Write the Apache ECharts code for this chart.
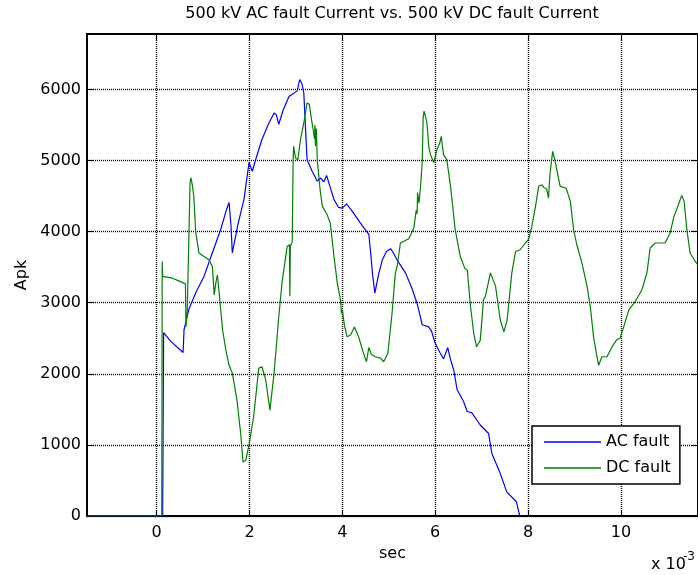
<!DOCTYPE html>
<html>
<head>
<meta charset="utf-8">
<script src="https://cdn.jsdelivr.net/npm/echarts@6/dist/echarts.min.js"></script>
<style>
  html, body { margin: 0; padding: 0; background: #fff; }
  #chart { width: 698px; height: 575px; }
</style>
</head>
<body>
<div id="chart"></div>
<script>
// Time base in milliseconds (axis carries the x 10^-3 s multiplier), current in A peak.
const acTime = [-1.5, 0.13, 0.15, 0.3, 0.45, 0.57, 0.59, 0.70, 0.85, 1.02, 1.16, 1.38, 1.50, 1.56, 1.60, 1.63,
  1.75, 1.88, 1.99, 2.06, 2.15, 2.27, 2.40, 2.53, 2.58, 2.63, 2.72, 2.85, 3.03, 3.08, 3.13, 3.17, 3.21, 3.24,
  3.35, 3.46, 3.53, 3.60, 3.66, 3.74, 3.82, 3.92, 4.00, 4.09, 4.20, 4.39, 4.57, 4.61, 4.65, 4.70, 4.78, 4.86,
  4.95, 5.04, 5.10, 5.18, 5.36, 5.50, 5.61, 5.72, 5.86, 5.92, 6.00, 6.10, 6.18, 6.27, 6.33, 6.40, 6.47, 6.61,
  6.69, 6.79, 6.97, 7.15, 7.22, 7.40, 7.54, 7.75, 7.82];
const acCurrent = [0, 0, 2580, 2460, 2370, 2300, 2620, 2920, 3150, 3370, 3630, 4030, 4300, 4410, 4100, 3700,
  4100, 4450, 4970, 4850, 5050, 5300, 5500, 5670, 5640, 5510, 5700, 5900, 5980, 6140, 6080, 5950, 5400, 5010,
  4850, 4710, 4755, 4700, 4790, 4620, 4450, 4340, 4330, 4390, 4300, 4120, 3960, 3700, 3400, 3135, 3400, 3600,
  3720, 3760, 3700, 3600, 3420, 3200, 2990, 2690, 2660, 2600, 2430, 2300, 2210, 2370, 2200, 2050, 1780, 1610,
  1470, 1450, 1280, 1160, 880, 600, 340, 200, 0];

const dcTime = [-1.5, 0.11, 0.12, 0.13, 0.34, 0.50, 0.62, 0.63, 0.66, 0.69, 0.72, 0.74, 0.77, 0.80, 0.84, 0.91,
  1.02, 1.13, 1.20, 1.24, 1.28, 1.31, 1.34, 1.42, 1.50, 1.56, 1.63, 1.73, 1.81, 1.86, 1.92, 1.99, 2.09, 2.20,
  2.27, 2.35, 2.44, 2.53, 2.63, 2.70, 2.81, 2.86, 2.87, 2.88, 2.92, 2.94, 2.95, 2.99, 3.04, 3.10, 3.17, 3.24,
  3.29, 3.33, 3.37, 3.40, 3.41, 3.42, 3.44, 3.46, 3.52, 3.57, 3.67, 3.74, 3.82, 3.89, 3.96, 3.98, 4.00, 4.04,
  4.10, 4.18, 4.26, 4.35, 4.45, 4.52, 4.57, 4.62, 4.71, 4.82, 4.89, 4.98, 5.07, 5.14, 5.18, 5.25, 5.29, 5.43,
  5.47, 5.54, 5.59, 5.61, 5.62, 5.65, 5.68, 5.72, 5.74, 5.76, 5.82, 5.86, 5.90, 5.97, 6.04, 6.10, 6.13, 6.18,
  6.25, 6.33, 6.43, 6.54, 6.64, 6.69, 6.76, 6.83, 6.89, 6.97, 7.04, 7.08, 7.19, 7.30, 7.40, 7.48, 7.55, 7.65,
  7.73, 7.83, 7.94, 8.01, 8.08, 8.16, 8.23, 8.30, 8.34, 8.40, 8.44, 8.47, 8.53, 8.58, 8.61, 8.69, 8.82, 8.91,
  8.98, 9.05, 9.16, 9.27, 9.34, 9.41, 9.47, 9.52, 9.59, 9.70, 9.81, 9.91, 9.98, 10.06, 10.17, 10.31, 10.45,
  10.56, 10.63, 10.74, 10.95, 11.06, 11.14, 11.21, 11.31, 11.36, 11.42, 11.49, 11.60, 11.66];
const dcCurrent = [0, 0, 3580, 3370, 3345, 3300, 3265, 2660, 2900, 3800, 4700, 4755, 4650, 4500, 4000, 3700,
  3650, 3600, 3510, 3110, 3300, 3390, 3370, 2620, 2300, 2120, 2010, 1630, 1160, 760, 785, 1000, 1400, 2080,
  2100, 1910, 1490, 2010, 2800, 3280, 3790, 3815, 3090, 3800, 3850, 5000, 5200, 5040, 5010, 5300, 5530, 5810,
  5790, 5600, 5440, 5300, 5500, 5200, 5450, 5010, 4590, 4355, 4240, 4120, 3650, 3280, 3040, 2850, 2900, 2700,
  2520, 2550, 2660, 2520, 2300, 2170, 2370, 2280, 2240, 2220, 2170, 2290, 2850, 3410, 3510, 3840, 3860, 3900,
  3910, 4050, 4300, 4250, 4550, 4400, 4600, 4970, 5600, 5694, 5540, 5200, 5080, 4970, 5160, 5250, 5340, 5080,
  5010, 4640, 4030, 3650, 3480, 3460, 2950, 2570, 2380, 2470, 3040, 3090, 3420, 3230, 2760, 2590, 2760, 3420,
  3720, 3745, 3840, 3890, 4070, 4355, 4640, 4660, 4620, 4600, 4470, 4800, 5130, 5000, 4900, 4640, 4610, 4430,
  4030, 3815, 3560, 3230, 2950, 2520, 2290, 2120, 2240, 2240, 2380, 2480, 2500, 2660, 2900, 3020, 3180,
  3420, 3770, 3840, 3840, 3980, 4210, 4330, 4510, 4430, 4030, 3700, 3580, 3530];

const xTicks = [0, 2, 4, 6, 8, 10];
const yTicks = [0, 1000, 2000, 3000, 4000, 5000, 6000];
const xRange = [-1.5, 11.66];
const yRange = [0, 6780];

const FONT = 'DejaVu Sans';
const zip = (xs, ys) => xs.map((x, i) => [x, ys[i]]);

const frameLine = { show: true, onZero: false, lineStyle: { color: '#000', width: 2 } };
const gridDots = { show: true, lineStyle: { color: '#000', width: 1.4, type: [1, 1] } };
const labelStyle = { color: '#000', fontSize: 16, fontFamily: FONT, formatter: v => String(v) };
const insideTicks = vals => ({ show: true, inside: true, length: 6, customValues: vals, lineStyle: { color: '#000' } });

const chart = echarts.init(document.getElementById('chart'), null, { renderer: 'canvas' });
chart.setOption({
  animation: false,
  backgroundColor: '#fff',
  grid: { left: 87, right: 0, top: 34, bottom: 59, containLabel: false },
  xAxis: [
    {
      type: 'value', position: 'bottom', min: xRange[0], max: xRange[1],
      axisLine: frameLine,
      axisTick: insideTicks(xTicks),
      axisLabel: Object.assign({ customValues: xTicks, margin: 9 }, labelStyle),
      splitLine: gridDots,
      name: 'sec', nameLocation: 'middle', nameGap: 29,
      nameTextStyle: { color: '#000', fontSize: 16, fontFamily: FONT }
    },
    {
      type: 'value', position: 'top', min: xRange[0], max: xRange[1],
      axisLine: frameLine,
      axisTick: insideTicks(xTicks),
      axisLabel: { show: false },
      splitLine: { show: false }
    }
  ],
  yAxis: [
    {
      type: 'value', position: 'left', min: yRange[0], max: yRange[1],
      axisLine: frameLine,
      axisTick: insideTicks(yTicks),
      axisLabel: Object.assign({ customValues: yTicks, margin: 6 }, labelStyle),
      splitLine: gridDots,
      name: 'Apk', nameLocation: 'middle', nameGap: 51, nameRotate: 90,
      nameTextStyle: { color: '#000', fontSize: 16, fontFamily: FONT }
    },
    {
      type: 'value', position: 'right', min: yRange[0], max: yRange[1],
      axisLine: frameLine,
      axisTick: insideTicks(yTicks),
      axisLabel: { show: false },
      splitLine: { show: false }
    }
  ],
  legend: {
    orient: 'vertical', left: 532, top: 426,
    data: ['AC fault', 'DC fault'],
    icon: 'rect',
    itemWidth: 57, itemHeight: 1.5, itemGap: 10,
    padding: [8, 9, 8, 12],
    backgroundColor: '#fff', borderColor: '#000', borderWidth: 1.5, borderRadius: 0,
    textStyle: { color: '#000', fontSize: 16, fontFamily: FONT, lineHeight: 16 }
  },
  graphic: [
    {
      type: 'text', x: 392, y: 14,
      style: { text: '500 kV AC fault Current vs. 500 kV DC fault Current', fill: '#000',
        font: '16px "' + FONT + '"', textAlign: 'center', textVerticalAlign: 'middle' }
    },
    {
      type: 'text', x: 651, y: 573,
      style: { text: 'x 10', fill: '#000', font: '16px "' + FONT + '"', textAlign: 'left', textVerticalAlign: 'bottom' }
    },
    {
      type: 'text', x: 683, y: 563,
      style: { text: '-3', fill: '#000', font: '12px "' + FONT + '"', textAlign: 'left', textVerticalAlign: 'bottom' }
    }
  ],
  series: [
    {
      name: 'AC fault', type: 'line', data: zip(acTime, acCurrent),
      symbol: 'none', lineStyle: { color: '#0000ff', width: 1.2 }, itemStyle: { color: '#0000ff' },
      z: 3
    },
    {
      name: 'DC fault', type: 'line', data: zip(dcTime, dcCurrent),
      symbol: 'none', lineStyle: { color: '#008000', width: 1.2 }, itemStyle: { color: '#008000' },
      z: 4
    }
  ]
});
</script>
</body>
</html>
